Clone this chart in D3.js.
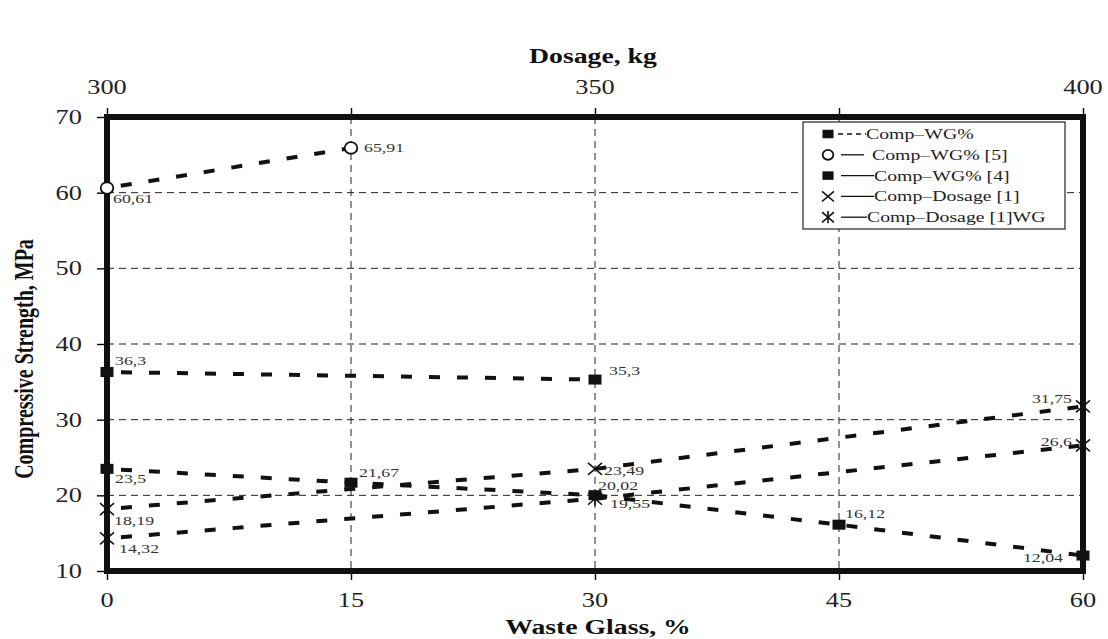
<!DOCTYPE html>
<html>
<head>
<meta charset="utf-8">
<script src="https://cdn.jsdelivr.net/npm/d3@7"></script>
<style>
  body { margin: 0; background: #fff; }
  svg { display: block; }
  text { font-family: "Liberation Serif", "Times New Roman", serif; }
</style>
</head>
<body>
<svg id="chart" width="1108" height="639"></svg>
<script>
// ---- data ----
const wasteGlassTicks = [0, 15, 30, 45, 60];
const dosageTicks = [300, 325, 350, 375, 400];
const dosageTickLabels = [300, 350, 400];
const strengthTicks = [10, 20, 30, 40, 50, 60, 70];
const strengthGrid = [20, 30, 40, 50, 60];
const wasteGlassGrid = [15, 30, 45];

const seriesNames = ["Comp\u2013WG%", "Comp\u2013WG% [5]", "Comp\u2013WG% [4]", "Comp\u2013Dosage [1]", "Comp\u2013Dosage [1]WG"];

const compWG_x = [0, 15, 30, 45, 60];
const compWG_y = [23.5, 21.67, 20.02, 16.12, 12.04];

const compWG5_x = [0, 15];
const compWG5_y = [60.61, 65.91];

const compWG4_x = [0, 30];
const compWG4_y = [36.3, 35.3];

const compDosage1_x = [300, 350, 400];
const compDosage1_y = [18.19, 23.49, 31.75];

const compDosage1WG_x = [300, 350, 400];
const compDosage1WG_y = [14.32, 19.55, 26.6];

// ---- layout ----
const svg = d3.select("#chart");
const X0 = 107, X1 = 1083, Y0 = 571, Y1 = 117;
const SX = 1.32; // horizontal stretch applied to all text

const x = d3.scaleLinear().domain([0, 60]).range([X0, X1]);
const xDose = d3.scaleLinear().domain([300, 400]).range([X0, X1]);
const y = d3.scaleLinear().domain([10, 70]).range([Y0, Y1]);

const ink = "#151515";

function stretchedText(g, px, py, str, opts) {
  const o = Object.assign({ size: 14, anchor: "start", weight: "normal", fill: ink }, opts || {});
  return g.append("text")
    .attr("transform", `translate(${px},${py}) scale(${SX},1)`)
    .attr("text-anchor", o.anchor)
    .attr("font-size", o.size)
    .attr("font-weight", o.weight)
    .attr("fill", o.fill)
    .text(str);
}

// grid
const grid = svg.append("g").attr("stroke", "#222").attr("stroke-width", 1).attr("stroke-dasharray", "7,5");
grid.selectAll("line.h").data(strengthGrid).join("line")
  .attr("x1", X0).attr("x2", X1).attr("y1", d => y(d)).attr("y2", d => y(d));
grid.selectAll("line.v").data(wasteGlassGrid).join("line")
  .attr("x1", d => x(d)).attr("x2", d => x(d)).attr("y1", Y1).attr("y2", Y0);

// axes (ticks only; labels drawn with stretch)
const axL = svg.append("g").attr("transform", `translate(${X0},0)`)
  .call(d3.axisLeft(y).tickValues(strengthTicks).tickSize(10).tickFormat(""));
const axB = svg.append("g").attr("transform", `translate(0,${Y0})`)
  .call(d3.axisBottom(x).tickValues(wasteGlassTicks).tickSize(9).tickFormat(""));
const axT = svg.append("g").attr("transform", `translate(0,${Y1})`)
  .call(d3.axisTop(xDose).tickValues(dosageTicks).tickSize(9).tickFormat(""));
[axL, axB, axT].forEach(a => {
  a.select(".domain").remove();
  a.selectAll(".tick line").attr("stroke", "#000").attr("stroke-width", 1.4);
});

const labels = svg.append("g");
strengthTicks.forEach(v => stretchedText(labels, X0 - 25, y(v) + 7, String(v), { size: 20, anchor: "end", fill: "#222" }));
wasteGlassTicks.forEach(v => stretchedText(labels, x(v), Y0 + 36, String(v), { size: 20, anchor: "middle", fill: "#222" }));
dosageTickLabels.forEach(v => stretchedText(labels, xDose(v), Y1 - 23, String(v), { size: 20, anchor: "middle", fill: "#222" }));

// axis titles
stretchedText(labels, 598, 634, "Waste Glass, %", { size: 21, anchor: "middle", weight: "bold", fill: "#111" });
stretchedText(labels, 593, 63, "Dosage, kg", { size: 21, anchor: "middle", weight: "bold", fill: "#111" });
labels.append("text")
  .attr("transform", `translate(33,359) scale(${SX},1) rotate(-90)`)
  .attr("text-anchor", "middle").attr("font-size", 20).attr("font-weight", "bold").attr("fill", "#111")
  .text("Compressive Strength, MPa");

// frame
svg.append("rect").attr("x", X0).attr("y", Y1).attr("width", X1 - X0).attr("height", Y0 - Y1)
  .attr("fill", "none").attr("stroke", "#111").attr("stroke-width", 6);

// ---- series ----
const series = [
  { name: seriesNames[0], xs: compWG_x, ys: compWG_y, sx: x, marker: "square",
    lab: [[8, 14, "start"], [8, -6, "start"], [3, -5, "start"], [6, -7, "start"], [-20, 6, "end"]] },
  { name: seriesNames[1], xs: compWG5_x, ys: compWG5_y, sx: x, marker: "circle",
    lab: [[6, 15, "start"], [13, 4, "start"]] },
  { name: seriesNames[2], xs: compWG4_x, ys: compWG4_y, sx: x, marker: "square",
    lab: [[8, -7, "start"], [14, -5, "start"]] },
  { name: seriesNames[3], xs: compDosage1_x, ys: compDosage1_y, sx: xDose, marker: "cross",
    lab: [[7, 16, "start"], [9, 6, "start"], [-11, -3, "end"]] },
  { name: seriesNames[4], xs: compDosage1WG_x, ys: compDosage1WG_y, sx: xDose, marker: "star",
    lab: [[12, 15, "start"], [15, 9, "start"], [-11, 1, "end"]] }
];

const line = d3.line();
const linesG = svg.append("g");
series.forEach(s => {
  const pts = s.xs.map((v, i) => [s.sx(v), y(s.ys[i])]);
  linesG.append("path").attr("d", line(pts))
    .attr("fill", "none").attr("stroke", "#111").attr("stroke-width", 4)
    .attr("stroke-dasharray", "11,17").attr("stroke-dashoffset", 14);
});

function drawMarker(g, type, cx, cy, k) {
  k = k || 1;
  if (type === "square") {
    g.append("rect").attr("x", cx - 6.5 * k).attr("y", cy - 5 * k).attr("width", 13 * k).attr("height", 10 * k).attr("fill", "#111");
  } else if (type === "circle") {
    g.append("ellipse").attr("cx", cx).attr("cy", cy).attr("rx", 6.3 * k).attr("ry", 5.8 * k)
      .attr("fill", "#fff").attr("stroke", "#111").attr("stroke-width", 1.8);
  } else {
    const w = 7 * k, h = 6 * k;
    const p = `M${cx - w},${cy - h}L${cx + w},${cy + h}M${cx - w},${cy + h}L${cx + w},${cy - h}` +
      (type === "star" ? `M${cx},${cy - h - 1}L${cx},${cy + h + 1}` : "");
    g.append("path").attr("d", p).attr("stroke", "#111").attr("stroke-width", 1.6).attr("fill", "none");
  }
}

const markG = svg.append("g");
const valG = svg.append("g");
series.forEach(s => {
  s.xs.forEach((v, i) => {
    const cx = s.sx(v), cy = y(s.ys[i]);
    drawMarker(markG, s.marker, cx, cy);
    const [dx, dy, anchor] = s.lab[i];
    stretchedText(valG, cx + dx, cy + dy, String(s.ys[i]).replace(".", ","), { size: 13.5, anchor: anchor, fill: "#333" });
  });
});

// ---- legend ----
const lg = svg.append("g");
lg.append("rect").attr("x", 803).attr("y", 122).attr("width", 262).attr("height", 107)
  .attr("fill", "#fff").attr("stroke", "#222").attr("stroke-width", 1.2);
const legendRows = [
  { marker: "square", dashed: true, x1: 838, x2: 866, tx: 866 },
  { marker: "circle", dashed: false, x1: 841, x2: 864, tx: 872 },
  { marker: "square", dashed: false, x1: 841, x2: 874, tx: 874 },
  { marker: "cross", dashed: false, x1: 841, x2: 874, tx: 874 },
  { marker: "star", dashed: false, x1: 841, x2: 867, tx: 867 }
];
legendRows.forEach((r, i) => {
  const cy = 134 + i * 20.8;
  drawMarker(lg, r.marker, 828, cy, 0.85);
  lg.append("line").attr("x1", r.x1).attr("x2", r.x2).attr("y1", cy).attr("y2", cy)
    .attr("stroke", "#111").attr("stroke-width", 1.3)
    .attr("stroke-dasharray", r.dashed ? "5,4" : null);
  stretchedText(lg, r.tx, cy + 5, seriesNames[i], { size: 15, fill: "#222" });
});
</script>
</body>
</html>
